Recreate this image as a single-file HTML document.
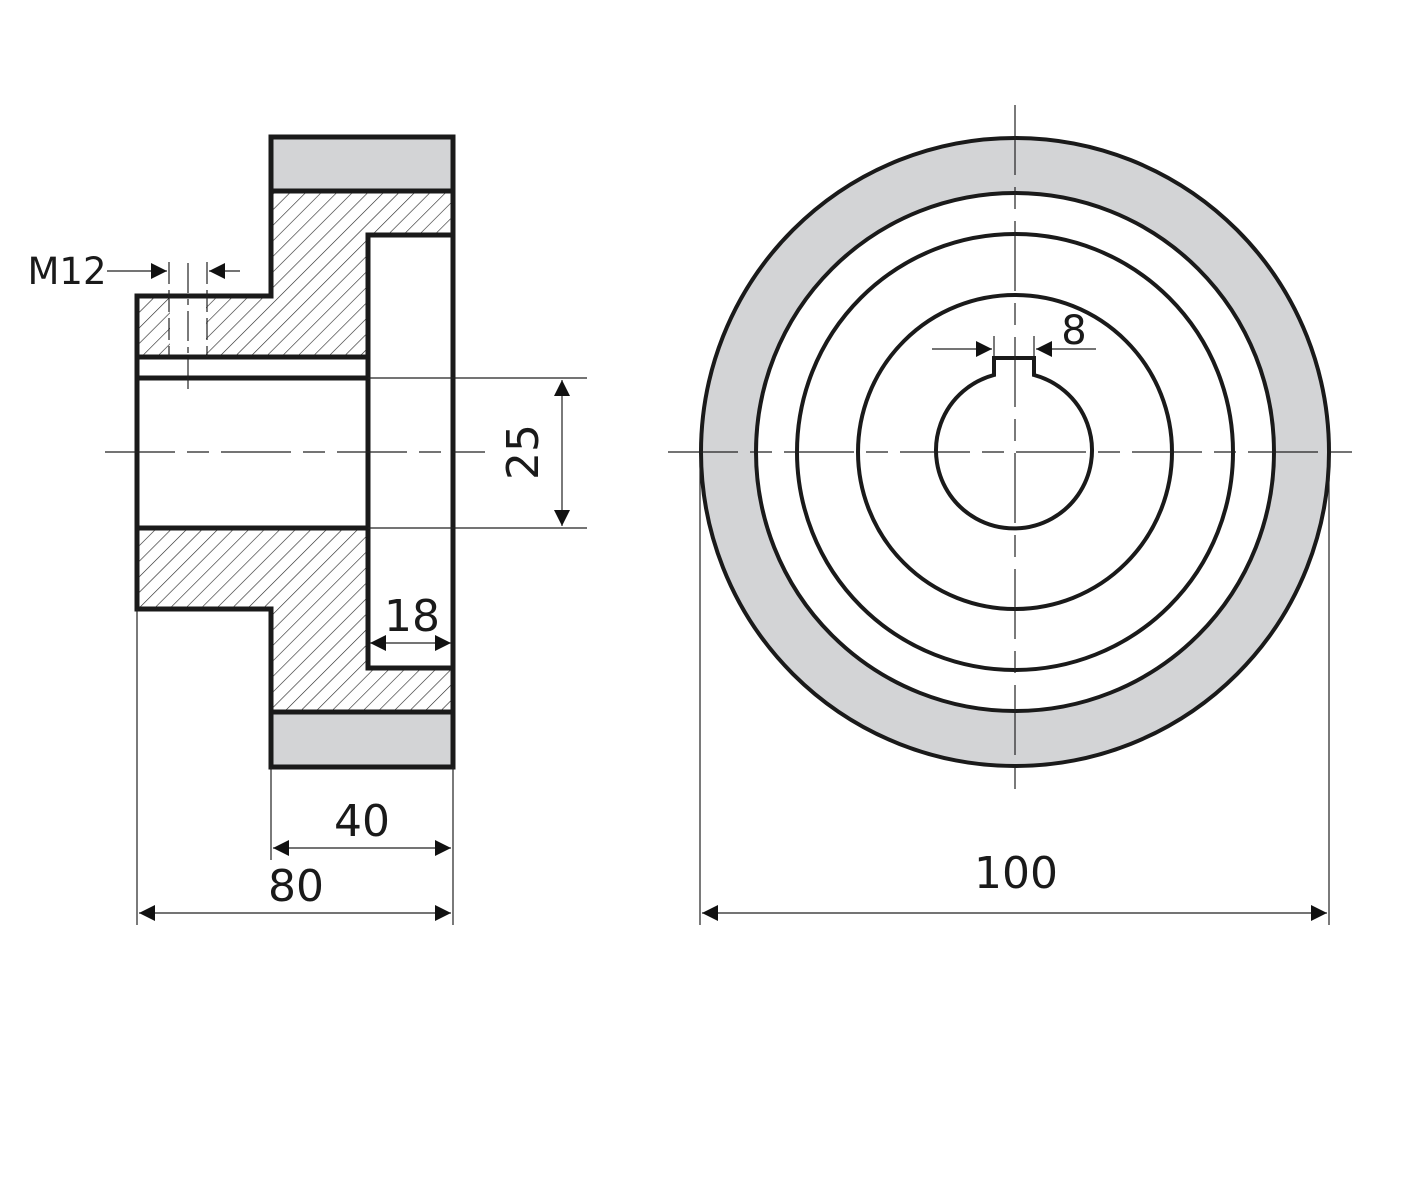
<!DOCTYPE html>
<html><head><meta charset="utf-8"><style>html,body{margin:0;padding:0;background:#fff}svg{display:block}</style></head>
<body>
<svg width="1416" height="1200" viewBox="0 0 1416 1200" xmlns="http://www.w3.org/2000/svg" font-family="'DejaVu Sans','Liberation Sans',sans-serif">
<defs>
<pattern id="h" width="11" height="11" patternUnits="userSpaceOnUse" patternTransform="rotate(45)">
<line x1="0" y1="0" x2="0" y2="11" stroke="#222" stroke-width="1.2"/>
</pattern>
<marker id="a" viewBox="0 0 10 10" refX="10" refY="5" markerWidth="19" markerHeight="16" markerUnits="userSpaceOnUse" orient="auto-start-reverse"><path d="M0,0 L10,5 L0,10z" fill="#111"/></marker>
</defs>
<rect x="271" y="137" width="182" height="54" fill="#d3d4d6"/>
<rect x="271" y="712" width="182" height="55" fill="#d3d4d6"/>
<path d="M271,191H453V235H368V357H137V296H271Z" fill="url(#h)"/>
<path d="M137,528H368V668H453V712H271V609H137Z" fill="url(#h)"/>
<rect x="170" y="298" width="36" height="57" fill="#fff"/>
<g fill="none" stroke="#1a1a1a" stroke-width="5">
<path d="M271,137H453V767H271V609H137V296H271Z"/>
<path d="M271,191H453M271,712H453"/>
<path d="M453,235H368V668H453"/>
<path d="M137,357H368M137,378H368M137,528H368"/>
</g>
<g stroke="#222" stroke-width="1.2" fill="none">
<line x1="169" y1="262" x2="169" y2="357" stroke-dasharray="22,6"/>
<line x1="207" y1="262" x2="207" y2="357" stroke-dasharray="22,6"/>
<line x1="188" y1="263" x2="188" y2="390" stroke-dasharray="30,6,6,6"/>
<line x1="107" y1="271" x2="167" y2="271" marker-end="url(#a)"/>
<line x1="240" y1="271" x2="209" y2="271" marker-end="url(#a)"/>
<line x1="105" y1="452" x2="485" y2="452" stroke-dasharray="70,12,22,12"/>
<line x1="368" y1="378" x2="587" y2="378"/>
<line x1="368" y1="528" x2="587" y2="528"/>
<line x1="562" y1="380" x2="562" y2="526" marker-start="url(#a)" marker-end="url(#a)"/>
<line x1="370" y1="643" x2="451" y2="643" marker-start="url(#a)" marker-end="url(#a)"/>
<line x1="271" y1="767" x2="271" y2="860"/>
<line x1="453" y1="767" x2="453" y2="925"/>
<line x1="137" y1="609" x2="137" y2="925"/>
<line x1="273" y1="848" x2="451" y2="848" marker-start="url(#a)" marker-end="url(#a)"/>
<line x1="139" y1="913" x2="451" y2="913" marker-start="url(#a)" marker-end="url(#a)"/>
</g>
<text x="67" y="284" font-size="37" text-anchor="middle" fill="#1a1a1a">M12</text>
<text x="412" y="631" font-size="44" text-anchor="middle" fill="#1a1a1a">18</text>
<text x="362" y="836" font-size="44" text-anchor="middle" fill="#1a1a1a">40</text>
<text x="296" y="901" font-size="44" text-anchor="middle" fill="#1a1a1a">80</text>
<text transform="translate(538,452) rotate(-90)" font-size="44" text-anchor="middle" fill="#1a1a1a">25</text>
<circle cx="1015" cy="452" r="286" fill="none" stroke="#d3d4d6" stroke-width="56"/>
<g fill="none" stroke="#1a1a1a" stroke-width="4">
<circle cx="1015" cy="452" r="314"/>
<circle cx="1015" cy="452" r="259"/>
<circle cx="1015" cy="452" r="218"/>
<circle cx="1015" cy="452" r="157"/>
<path d="M994,375 V358 H1034 V375 A78,78 0 1 1 994,375 Z"/>
</g>
<g stroke="#222" stroke-width="1.2" fill="none">
<line x1="668" y1="452" x2="1360" y2="452" stroke-dasharray="70,12,22,12"/>
<line x1="1015" y1="105" x2="1015" y2="800" stroke-dasharray="70,12,22,12"/>
<line x1="994" y1="336" x2="994" y2="356"/>
<line x1="1034" y1="336" x2="1034" y2="356"/>
<line x1="932" y1="349" x2="992" y2="349" marker-end="url(#a)"/>
<line x1="1096" y1="349" x2="1036" y2="349" marker-end="url(#a)"/>
<line x1="700" y1="460" x2="700" y2="925"/>
<line x1="1329" y1="460" x2="1329" y2="925"/>
<line x1="702" y1="913" x2="1327" y2="913" marker-start="url(#a)" marker-end="url(#a)"/>
</g>
<text x="1074" y="344" font-size="40" text-anchor="middle" fill="#1a1a1a">8</text>
<text x="1016" y="888" font-size="44" text-anchor="middle" fill="#1a1a1a">100</text>
</svg>
</body></html>
